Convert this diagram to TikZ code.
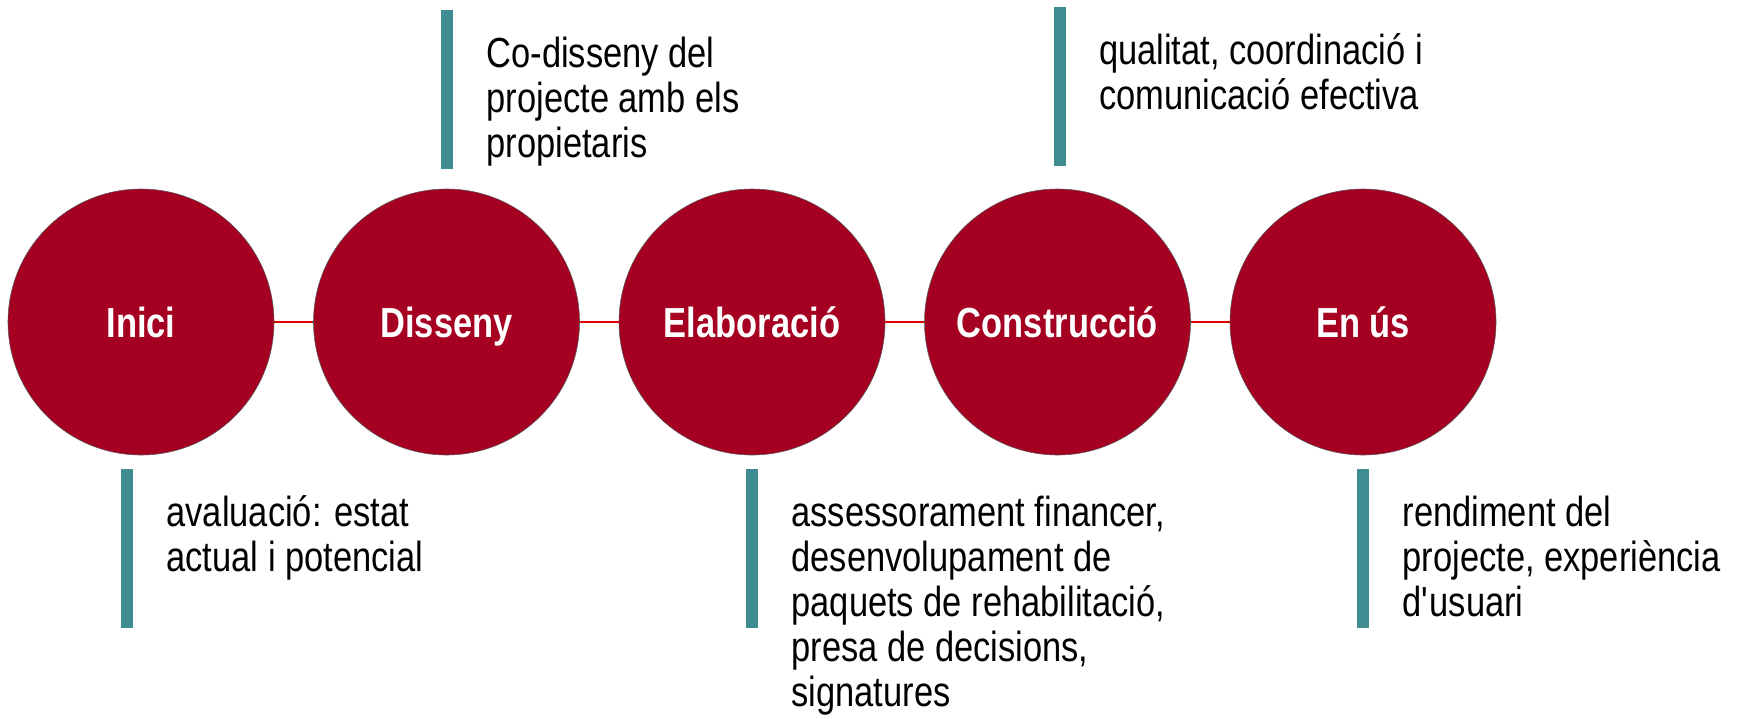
\documentclass[tikz,border=0pt]{standalone}
\usepackage{fontspec}
\setmainfont{Liberation Sans}[FakeStretch=0.82]
\usetikzlibrary{positioning}
\definecolor{stagered}{RGB}{165,0,33}
\definecolor{barteal}{RGB}{63,140,145}
\definecolor{linkred}{RGB}{225,0,0}

\begin{document}
\begin{tikzpicture}[stage/.style={circle,fill=stagered,draw=gray!70!black,line width=0.4pt,minimum size=6.65cm,inner sep=0pt,text=white,font=\fontsize{29.9}{32}\selectfont\bfseries,text height=21.4pt,text depth=0pt},link/.style={draw=linkred,line width=1.1pt},bar/.style={fill=barteal,minimum width=0.3cm,minimum height=3.975cm,inner sep=0pt,anchor=north},txt/.style={align=left,inner sep=0pt,font=\fontsize{29.9}{32}\selectfont,below right=0.64cm and 0.825cm of #1.north east}]
\useasboundingbox (0,0) rectangle (43.5,-17.95);
\foreach \t [count=\i] in {Inici,Disseny,Elaboració,Construcció,En ús}{\node[stage] (c\i) at ({3.525+7.6375*(\i-1)},-8.05) {\t};};
\foreach \i in {1,2,3,4}{\pgfmathtruncatemacro\j{\i+1}\draw[link] (c\i) -- (c\j);};
% bars above and below the stages
\node[bar] (b1) at (3.175,-11.725) {};
\node[bar] (b2) at (11.175,-0.25) {};
\node[bar] (b3) at (18.8,-11.725) {};
\node[bar] (b4) at (26.49,-0.175) {};
\node[bar] (b5) at (34.075,-11.725) {};
\node[txt=b1] (t1) {\strut avaluació: estat\\actual i potencial};
\node[txt=b2] (t2) {\strut Co-disseny del\\projecte amb els\\propietaris};
\node[txt=b3] (t3) {\strut assessorament financer,\\desenvolupament de\\paquets de rehabilitació,\\presa de decisions,\\signatures};
\node[txt=b4] (t4) {\strut qualitat, coordinació i\\comunicació efectiva};
\node[txt=b5] (t5) {\strut rendiment del\\projecte, experiència\\d\textquotesingle usuari};
\end{tikzpicture}
\end{document}
